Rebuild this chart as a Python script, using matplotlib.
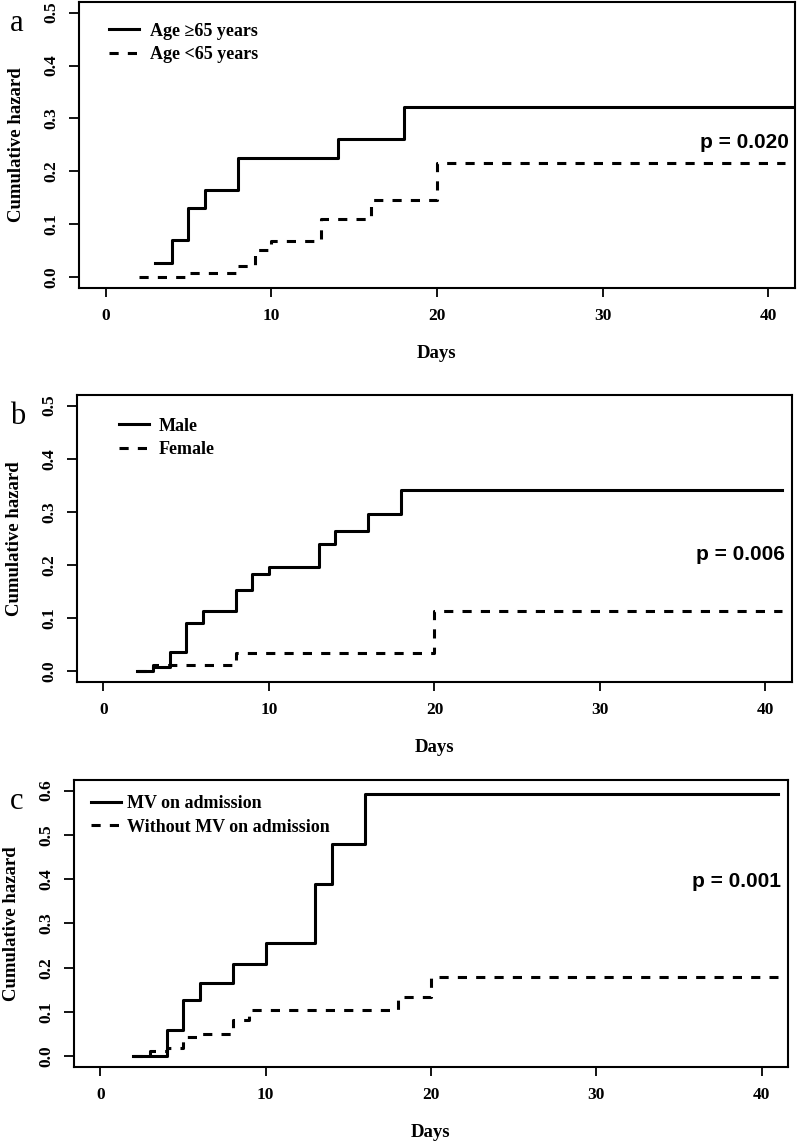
import matplotlib
matplotlib.use("Agg")
import matplotlib.pyplot as plt

# panel a: age
days_a_old = [3, 4, 5, 6, 8, 14, 18, 41.6]
haz_a_old = [0.027, 0.070, 0.131, 0.165, 0.226, 0.262, 0.322, 0.322]
days_a_young = [2, 5, 8, 9, 10, 13, 16, 20, 41]
haz_a_young = [0.0, 0.009, 0.022, 0.052, 0.068, 0.110, 0.146, 0.215, 0.215]

# panel b: sex
days_b_male = [2, 3, 4, 5, 6, 8, 9, 10, 13, 14, 16, 18, 41]
haz_b_male = [0.0, 0.008, 0.037, 0.091, 0.113, 0.154, 0.183, 0.197, 0.239, 0.264, 0.297, 0.341, 0.341]
days_b_female = [2, 3, 8, 20, 41]
haz_b_female = [0.0, 0.012, 0.035, 0.114, 0.114]

# panel c: mechanical ventilation
days_c_mv = [2, 4, 5, 6, 8, 10, 13, 14, 16, 41]
haz_c_mv = [0.0, 0.060, 0.127, 0.165, 0.208, 0.257, 0.390, 0.480, 0.592, 0.592]
days_c_nomv = [2, 3, 4, 5, 6, 8, 9, 18, 20, 41]
haz_c_nomv = [0.0, 0.013, 0.020, 0.043, 0.051, 0.083, 0.105, 0.133, 0.180, 0.180]

x_ticks = [0, 10, 20, 30, 40]
y_ticks_ab = [0.0, 0.1, 0.2, 0.3, 0.4, 0.5]
y_ticks_c = [0.0, 0.1, 0.2, 0.3, 0.4, 0.5, 0.6]

SERIF = ["Liberation Serif", "DejaVu Serif"]
SANS = ["Liberation Sans", "DejaVu Sans"]

fig = plt.figure(figsize=(7.97, 11.45), dpi=100)

panels = [
    # letter, rect, curves, labels, yticks, ylim, p text, p y, legend anchor, text pad
    ("a", [0.0991, 0.7485, 0.8984, 0.2498],
     (days_a_old, haz_a_old, days_a_young, haz_a_young),
     ("Age \u226565 years", "Age <65 years"), y_ticks_ab, (-0.02, 0.52),
     "p = 0.020", 0.254, (0.042, 0.928), 0.6),
    ("b", [0.0966, 0.4044, 0.8971, 0.2506],
     (days_b_male, haz_b_male, days_b_female, haz_b_female),
     ("Male", "Female"), y_ticks_ab, (-0.02, 0.52),
     "p = 0.006", 0.219, (0.059, 0.921), 0.55),
    ("c", [0.0928, 0.0681, 0.8959, 0.2507],
     (days_c_mv, haz_c_mv, days_c_nomv, haz_c_nomv),
     ("MV on admission", "Without MV on admission"), y_ticks_c, (-0.024, 0.624),
     "p = 0.001", 0.395, (0.024, 0.948), 0.35),
]

for letter, rect, curves, labels, yt, ylim, ptxt, py, anchor, tpad in panels:
    ax = fig.add_axes(rect)
    x1, y1, x2, y2 = curves
    l1, = ax.step(x1, y1, where="post", color="black", lw=2.2, label=labels[0])
    l2, = ax.step(x2, y2, where="post", color="black", lw=2.2,
                  dashes=(3, 3), dash_capstyle="butt", label=labels[1])
    ax.set_xlim(-1.6, 41.6)
    ax.set_ylim(*ylim)
    ax.set_xticks(x_ticks)
    ax.set_yticks(yt)
    ax.set_yticklabels([f"{v:.1f}" for v in yt], rotation=90, va="center")
    for lab in ax.get_xticklabels() + ax.get_yticklabels():
        lab.set_fontfamily(SERIF)
        lab.set_fontweight("bold")
        lab.set_fontsize(12.5)
    ax.tick_params(axis="x", direction="out", length=6.5, width=1.3, pad=8)
    ax.tick_params(axis="y", direction="out", length=7, width=1.3, pad=7)
    for sp in ax.spines.values():
        sp.set_linewidth(1.5)
    ax.set_xlabel("Days", fontfamily=SERIF, fontweight="bold", fontsize=13.5)
    ax.set_ylabel("Cumulative hazard", fontfamily=SERIF, fontweight="bold", fontsize=13.5)
    ax.xaxis.set_label_coords(0.5, -0.2)
    ax.yaxis.set_label_coords(-0.075, 0.5)
    ax.text(41.2, py, ptxt, ha="right", va="center", fontfamily=SANS,
            fontweight="bold", fontsize=15)
    ax.legend(handles=[l1, l2], loc="upper left", bbox_to_anchor=anchor,
              frameon=False, handlelength=1.65, handletextpad=tpad,
              borderpad=0, borderaxespad=0, labelspacing=0.37,
              prop={"family": SERIF, "weight": "bold", "size": 13})
    bbox = ax.get_position()
    fig.text(0.012, bbox.y1 - 0.006, letter, ha="left", va="top",
             fontfamily=SERIF, fontsize=22)

fig.savefig("out.png", dpi=100)
